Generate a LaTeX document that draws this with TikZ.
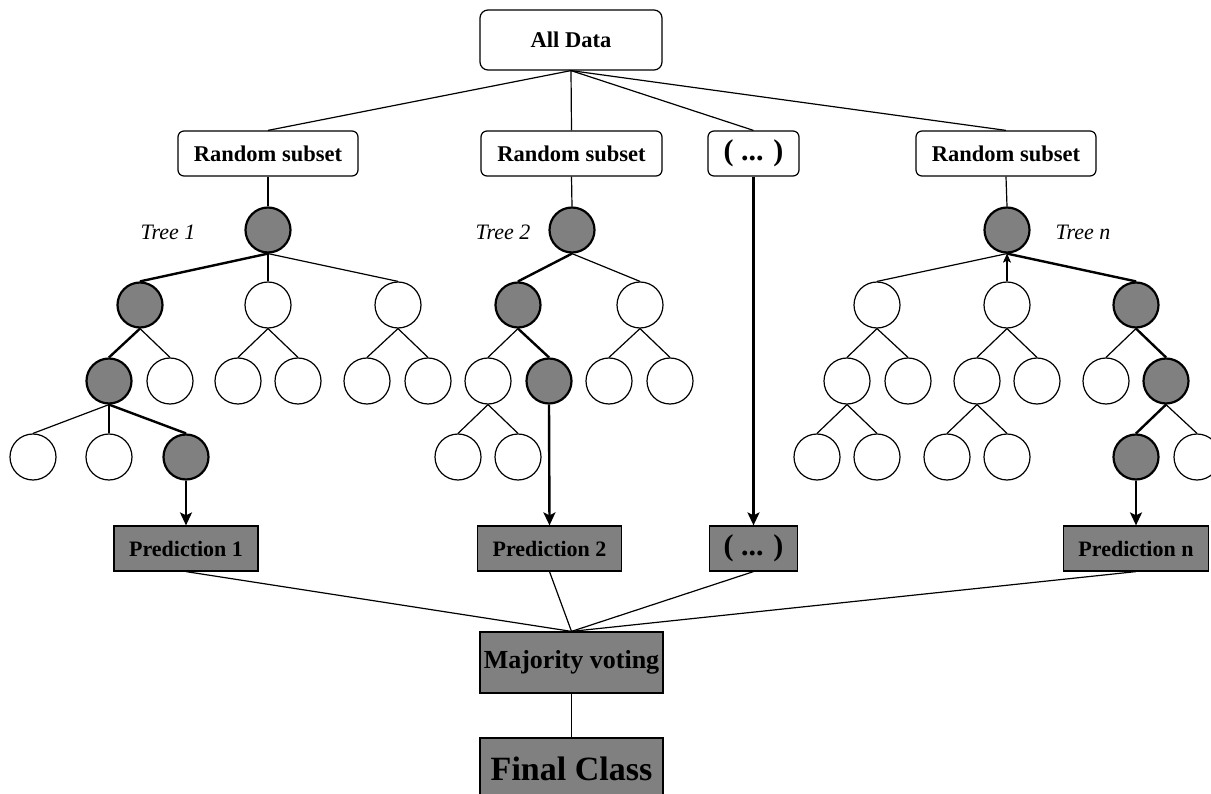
\documentclass[tikz,border=0pt]{standalone}
\usepackage{fontspec}
\setmainfont{Liberation Serif}
\usetikzlibrary{arrows.meta}
\definecolor{nodegray}{HTML}{808080}
\tikzset{
  wnode/.style={circle,draw=black,line width=1.2pt,fill=white,minimum size=46pt,inner sep=0pt},
  gnode/.style={circle,draw=black,line width=2.2pt,fill=nodegray,minimum size=45pt,inner sep=0pt},
  thinedge/.style={line width=1.2pt},
  thickedge/.style={line width=2.4pt},
  rbox/.style={draw=black,line width=1.2pt,rounded corners=6pt,fill=white,inner sep=0pt,font=\fontsize{22.5}{26}\selectfont\bfseries},
  gbox/.style={draw=black,line width=1.2pt,fill=nodegray,inner sep=0pt,font=\fontsize{22}{26}\selectfont\bfseries},
  treelabel/.style={font=\fontsize{22}{26}\selectfont\itshape,inner sep=0pt},
  bigarrow/.style={thickedge,-{Stealth[length=13pt,width=12pt,inset=3pt]}},
  smallarrow/.style={thinedge,-{Stealth[length=9pt,width=8pt,inset=2pt]}}
}
\begin{document}
\begin{tikzpicture}[x=1pt,y=-1pt]
\useasboundingbox (0,0) rectangle (1211,794);

% top boxes
\node[rbox,rounded corners=8pt,minimum width=182pt,minimum height=60pt] (all) at (571,40) {All Data};
\node[rbox,minimum width=180pt,minimum height=45pt] (rs1) at (268,153.5) {Random subset};
\node[rbox,minimum width=181pt,minimum height=45pt] (rs2) at (571.5,153.5) {Random subset};
\node[rbox,minimum width=91pt,minimum height=45pt,font=\fontsize{30}{32}\selectfont\bfseries] (dt) at (753.5,153.5) {( ... )};
\node[rbox,minimum width=180pt,minimum height=45pt] (rsn) at (1006,153.5) {Random subset};

\draw[thinedge] (all.south) -- (rs1.north);
\draw[thinedge] (all.south) -- (rs2.north);
\draw[thinedge] (all.south) -- (dt.north);
\draw[thinedge] (all.south) -- (rsn.north);

% Tree 1
\node[gnode] (t1r) at (268,230) {};
\node[gnode] (t1a) at (140,305) {};
\node[wnode] (t1b) at (268,305) {};
\node[wnode] (t1c) at (398,305) {};
\node[gnode] (t1aa) at (109,381) {};
\node[wnode] (t1ab) at (170,381) {};
\node[wnode] (t1ba) at (238,381) {};
\node[wnode] (t1bb) at (298,381) {};
\node[wnode] (t1ca) at (367,381) {};
\node[wnode] (t1cb) at (428,381) {};
\node[wnode] (t1aaa) at (33,457) {};
\node[wnode] (t1aab) at (109,457) {};
\node[gnode] (t1aac) at (186,457) {};
\node[treelabel] (l1) at (168,232) {Tree 1};

\draw[thinedge] (rs1.south) -- (t1r.north);
\draw[thickedge] (t1r.south) -- (t1a.north);
\draw[thinedge] (t1r.south) -- (t1b.north);
\draw[thinedge] (t1r.south) -- (t1c.north);
\draw[thickedge] (t1a.south) -- (t1aa.north);
\draw[thinedge] (t1a.south) -- (t1ab.north);
\draw[thinedge] (t1b.south) -- (t1ba.north);
\draw[thinedge] (t1b.south) -- (t1bb.north);
\draw[thinedge] (t1c.south) -- (t1ca.north);
\draw[thinedge] (t1c.south) -- (t1cb.north);
\draw[thinedge] (t1aa.south) -- (t1aaa.north);
\draw[thinedge] (t1aa.south) -- (t1aab.north);
\draw[thickedge] (t1aa.south) -- (t1aac.north);

% Tree 2
\node[gnode] (t2r) at (572,230) {};
\node[gnode] (t2a) at (518,305) {};
\node[wnode] (t2b) at (640,305) {};
\node[wnode] (t2aa) at (488,381) {};
\node[gnode] (t2ab) at (549,381) {};
\node[wnode] (t2ba) at (609,381) {};
\node[wnode] (t2bb) at (670,381) {};
\node[wnode] (t2aaa) at (458,457) {};
\node[wnode] (t2aab) at (518,457) {};
\node[treelabel] (l2) at (503,232) {Tree 2};

\draw[thinedge] (rs2.south) -- (t2r.north);
\draw[thickedge] (t2r.south) -- (t2a.north);
\draw[thinedge] (t2r.south) -- (t2b.north);
\draw[thinedge] (t2a.south) -- (t2aa.north);
\draw[thickedge] (t2a.south) -- (t2ab.north);
\draw[thinedge] (t2b.south) -- (t2ba.north);
\draw[thinedge] (t2b.south) -- (t2bb.north);
\draw[thinedge] (t2aa.south) -- (t2aaa.north);
\draw[thinedge] (t2aa.south) -- (t2aab.north);

% Tree n
\node[gnode] (tnr) at (1007,230) {};
\node[wnode] (tna) at (877,305) {};
\node[wnode] (tnb) at (1007,305) {};
\node[gnode] (tnc) at (1136,305) {};
\node[wnode] (tnaa) at (847,381) {};
\node[wnode] (tnab) at (908,381) {};
\node[wnode] (tnba) at (977,381) {};
\node[wnode] (tnbb) at (1037,381) {};
\node[wnode] (tnca) at (1106,381) {};
\node[gnode] (tncb) at (1166,381) {};
\node[wnode] (tnaaa) at (817,457) {};
\node[wnode] (tnaab) at (877,457) {};
\node[wnode] (tnbaa) at (947,457) {};
\node[wnode] (tnbab) at (1007,457) {};
\node[gnode] (tncba) at (1136,457) {};
\node[wnode] (tncbb) at (1197,457) {};
\node[treelabel] (ln) at (1083,232) {Tree n};

\draw[thinedge] (rsn.south) -- (tnr.north);
\draw[thinedge] (tnr.south) -- (tna.north);
\draw[smallarrow] (tnb.north) -- (tnr.south);
\draw[thickedge] (tnr.south) -- (tnc.north);
\draw[thinedge] (tna.south) -- (tnaa.north);
\draw[thinedge] (tna.south) -- (tnab.north);
\draw[thinedge] (tnb.south) -- (tnba.north);
\draw[thinedge] (tnb.south) -- (tnbb.north);
\draw[thinedge] (tnc.south) -- (tnca.north);
\draw[thickedge] (tnc.south) -- (tncb.north);
\draw[thinedge] (tnaa.south) -- (tnaaa.north);
\draw[thinedge] (tnaa.south) -- (tnaab.north);
\draw[thinedge] (tnba.south) -- (tnbaa.north);
\draw[thinedge] (tnba.south) -- (tnbab.north);
\draw[thickedge] (tncb.south) -- (tncba.north);
\draw[thinedge] (tncb.south) -- (tncbb.north);

% prediction boxes
\node[gbox,minimum width=144pt,minimum height=45pt] (p1) at (186,548.5) {Prediction 1};
\node[gbox,minimum width=144pt,minimum height=45pt] (p2) at (549.5,548.5) {Prediction 2};
\node[gbox,minimum width=88pt,minimum height=45pt,font=\fontsize{30}{32}\selectfont\bfseries] (db) at (753.5,548.5) {( ... )};
\node[gbox,minimum width=145pt,minimum height=45pt] (pn) at (1136,548.5) {Prediction n};

\draw[bigarrow] (t1aac.south) -- (p1.north);
\draw[bigarrow] (t2ab.south) -- (p2.north);
\draw[bigarrow] (dt.south) -- (db.north);
\draw[bigarrow] (tncba.south) -- (pn.north);

% voting
\node[gbox,minimum width=183pt,minimum height=61pt,font=\fontsize{26}{30}\selectfont\bfseries] (mv) at (571.5,662.5) {Majority voting};
\node[gbox,minimum width=183pt,minimum height=61pt,font=\fontsize{34}{38}\selectfont\bfseries] (fc) at (571.5,768.5) {Final Class};

\draw[thinedge] (p1.south) -- (mv.north);
\draw[thinedge] (p2.south) -- (mv.north);
\draw[thinedge] (db.south) -- (mv.north);
\draw[thinedge] (pn.south) -- (mv.north);
\draw[thinedge] (mv.south) -- (fc.north);
\end{tikzpicture}
\end{document}
